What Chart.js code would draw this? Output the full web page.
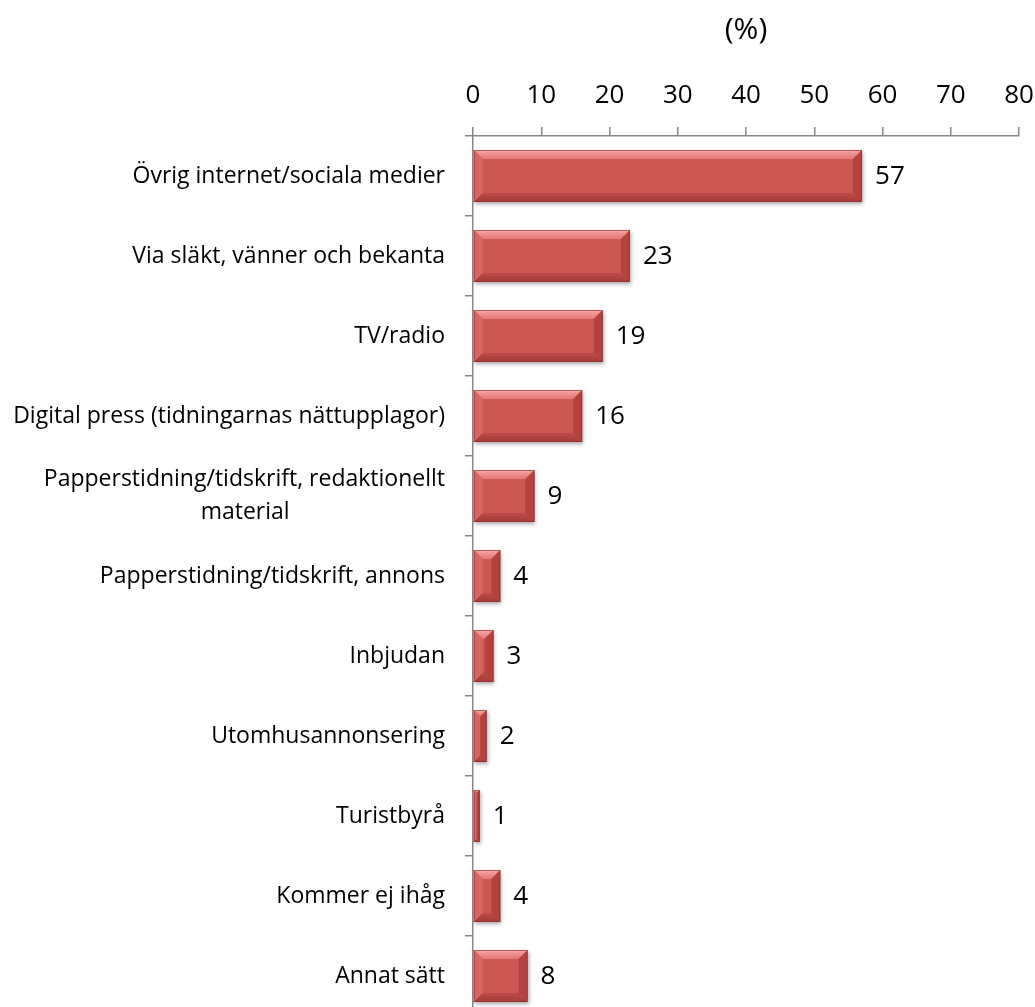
<!DOCTYPE html>
<html>
<head>
<meta charset="utf-8">
<script src="https://cdn.jsdelivr.net/npm/chart.js@4/dist/chart.umd.min.js"></script>
<style>
  html, body { margin: 0; padding: 0; background: #fff; overflow: hidden; }
  canvas { display: block; }
</style>
</head>
<body>
<canvas id="c" width="1035" height="1020"></canvas>
<script>
// Survey answers: where respondents heard about the event (%)
const categories = [
  'Övrig internet/sociala medier',
  'Via släkt, vänner och bekanta',
  'TV/radio',
  'Digital press (tidningarnas nättupplagor)',
  ['Papperstidning/tidskrift, redaktionellt', 'material'],
  'Papperstidning/tidskrift, annons',
  'Inbjudan',
  'Utomhusannonsering',
  'Turistbyrå',
  'Kommer ej ihåg',
  'Annat sätt'
];
const values = [57, 23, 19, 16, 9, 4, 3, 2, 1, 4, 8];
const axisMin = 0;
const axisMax = 80;
const axisStep = 10;
const unitTitle = '(%)';

const FONT = '"Open Sans", Lato, sans-serif';
const LABEL_SIZE = 23;
const AXIS_GREY = '#878787';
const FACE = '#CD5755';

// Wrapped labels: pad shorter lines with no-break spaces so they sit
// centred under the longest line while the axis keeps right alignment.
const measureCtx = document.createElement('canvas').getContext('2d');
measureCtx.font = LABEL_SIZE + 'px ' + FONT;
function centreLines(label) {
  if (!Array.isArray(label)) return label;
  const widths = label.map(s => measureCtx.measureText(s).width);
  const maxW = Math.max(...widths);
  const sp = measureCtx.measureText('\u00A0').width;
  return label.map((s, i) => s + '\u00A0'.repeat(Math.round((maxW - widths[i]) / 2 / sp)));
}

// Soft drop shadow under each bar
const barShadow = {
  id: 'barShadow',
  beforeDatasetDraw(chart) {
    const ctx = chart.ctx;
    ctx.save();
    ctx.shadowColor = 'rgba(0,0,0,0.35)';
    ctx.shadowBlur = 4;
    ctx.shadowOffsetX = 1;
    ctx.shadowOffsetY = 2;
  },
  afterDatasetDraw(chart) {
    chart.ctx.restore();
  }
};

// Beveled edges drawn over each bar, using the bar element geometry
const barBevel = {
  id: 'barBevel',
  afterDatasetsDraw(chart) {
    const ctx = chart.ctx;
    const meta = chart.getDatasetMeta(0);
    meta.data.forEach(bar => {
      const { x, y, base, height } = bar.getProps(['x', 'y', 'base', 'height'], true);
      const l = Math.min(base, x), r = Math.max(base, x);
      const t = y - height / 2, b = y + height / 2;
      const w = r - l;
      const d = Math.min(9, w / 2, height / 2);
      const poly = (pts, fill) => {
        ctx.beginPath();
        ctx.moveTo(pts[0][0], pts[0][1]);
        for (let i = 1; i < pts.length; i++) ctx.lineTo(pts[i][0], pts[i][1]);
        ctx.closePath();
        ctx.fillStyle = fill;
        ctx.fill();
      };
      ctx.save();
      const gt = ctx.createLinearGradient(0, t, 0, t + d);
      gt.addColorStop(0, '#F4A7A5');
      gt.addColorStop(1, '#E27774');
      poly([[l, t], [r, t], [r - d, t + d], [l + d, t + d]], gt);
      poly([[l, t], [l + d, t + d], [l + d, b - d], [l, b]], '#D6645F');
      poly([[r, t], [r, b], [r - d, b - d], [r - d, t + d]], '#B5423F');
      const gb = ctx.createLinearGradient(0, b - d, 0, b);
      gb.addColorStop(0, '#BE4A48');
      gb.addColorStop(1, '#A43B39');
      poly([[l, b], [l + d, b - d], [r - d, b - d], [r, b]], gb);
      ctx.strokeStyle = 'rgba(140,45,43,0.6)';
      ctx.lineWidth = 1;
      ctx.strokeRect(l + 0.5, t + 0.5, w - 1, height - 1);
      ctx.restore();
    });
  }
};

// Value labels to the right of each bar
const valueLabels = {
  id: 'valueLabels',
  afterDatasetsDraw(chart) {
    const ctx = chart.ctx;
    const meta = chart.getDatasetMeta(0);
    ctx.save();
    ctx.font = '26px ' + FONT;
    ctx.fillStyle = '#000';
    ctx.textAlign = 'left';
    ctx.textBaseline = 'middle';
    meta.data.forEach((bar, i) => {
      ctx.fillText(String(values[i]), bar.x + 13, bar.y + 1);
    });
    ctx.restore();
  }
};

// Unit caption centred above the value axis
const unitCaption = {
  id: 'unitCaption',
  afterDraw(chart) {
    const ctx = chart.ctx;
    const a = chart.chartArea;
    ctx.save();
    ctx.font = '30px ' + FONT;
    ctx.fillStyle = '#000';
    ctx.textAlign = 'center';
    ctx.textBaseline = 'middle';
    ctx.fillText(unitTitle, (a.left + a.right) / 2, 30);
    ctx.restore();
  }
};

new Chart(document.getElementById('c'), {
  type: 'bar',
  data: {
    labels: categories.map(centreLines),
    datasets: [{
      data: values,
      backgroundColor: FACE,
      borderWidth: 0,
      barPercentage: 0.65,
      categoryPercentage: 1
    }]
  },
  options: {
    indexAxis: 'y',
    responsive: false,
    animation: false,
    layout: { padding: { top: 0, right: 16, bottom: 4, left: 0 } },
    plugins: {
      legend: { display: false },
      tooltip: { enabled: false },
      title: { display: false }
    },
    scales: {
      x: {
        position: 'top',
        min: axisMin,
        max: axisMax,
        ticks: {
          stepSize: axisStep,
          color: '#000',
          padding: 16,
          font: { family: FONT, size: 26 }
        },
        grid: {
          drawOnChartArea: false,
          drawTicks: true,
          tickLength: 9,
          color: AXIS_GREY,
          lineWidth: 1.5
        },
        border: { display: true, color: AXIS_GREY, width: 1.5 },
        afterFit(scale) {
          scale.height = 136;
          scale.paddingLeft = 0;
          scale.paddingRight = 0;
        }
      },
      y: {
        offset: true,
        ticks: {
          color: '#000',
          padding: 20,
          font: { family: FONT, size: LABEL_SIZE, lineHeight: 1.4 }
        },
        grid: {
          offset: true,
          drawOnChartArea: false,
          drawTicks: true,
          tickLength: 8,
          color: AXIS_GREY,
          lineWidth: 1.5
        },
        border: { display: true, color: AXIS_GREY, width: 1.5 },
        afterFit(scale) {
          scale.width = 473;
          scale.paddingTop = 0;
          scale.paddingBottom = 0;
        }
      }
    }
  },
  plugins: [barShadow, barBevel, valueLabels, unitCaption]
});
</script>
</body>
</html>
